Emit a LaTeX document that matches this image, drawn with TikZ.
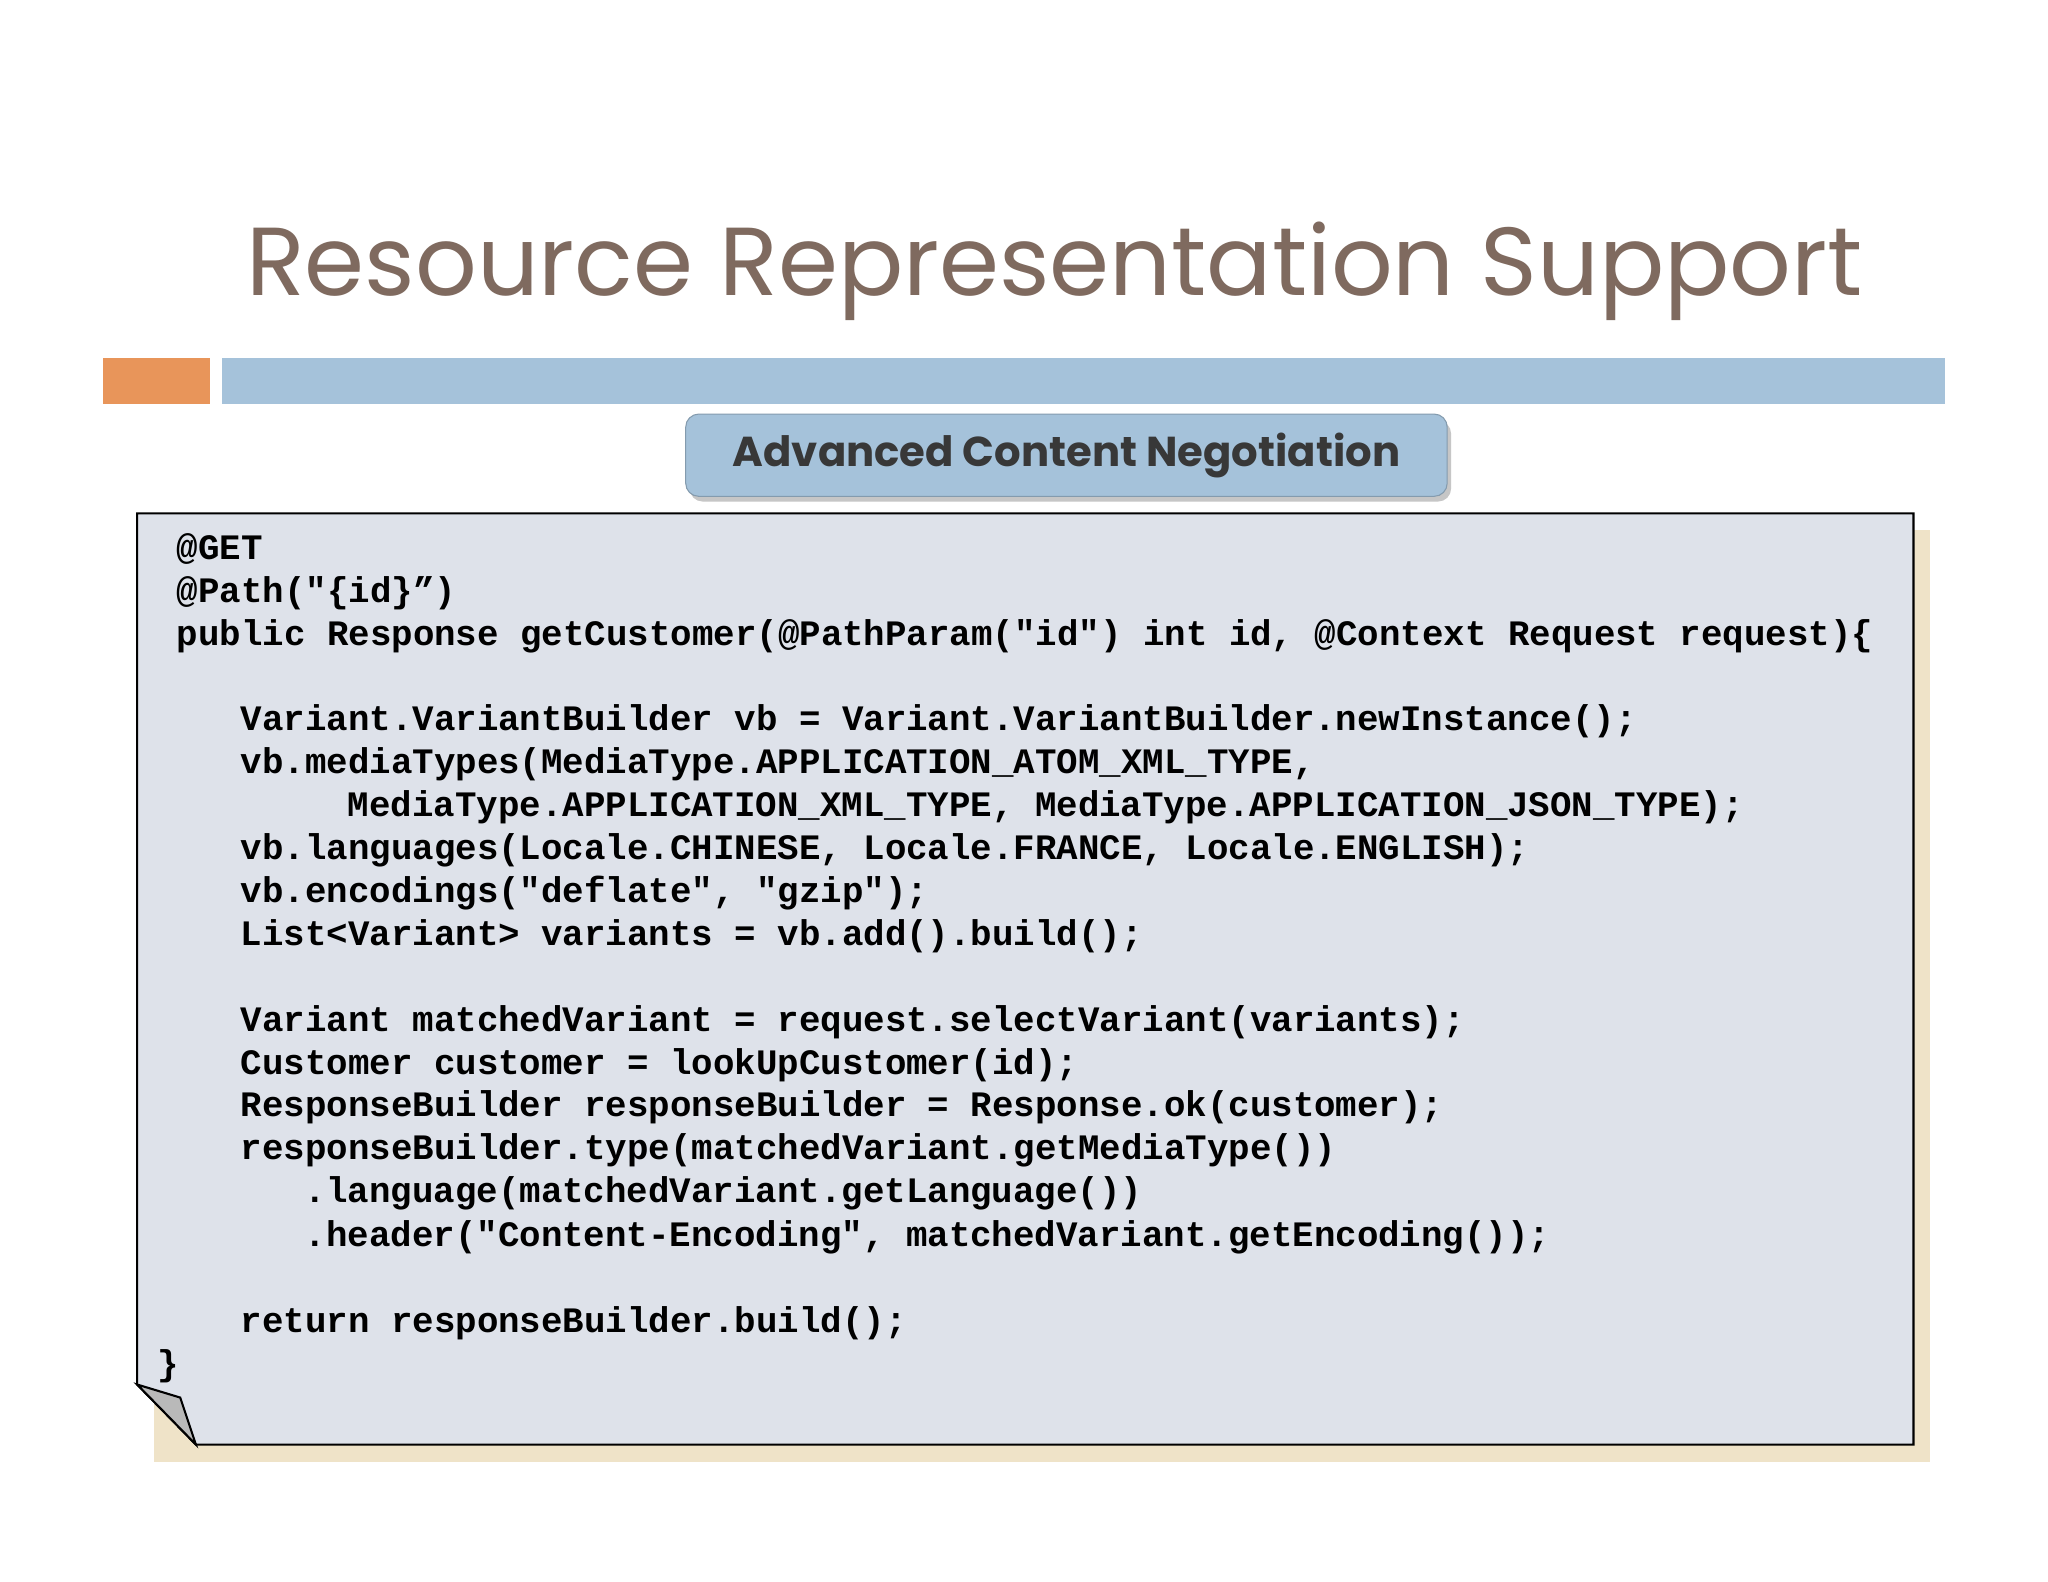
\documentclass[tikz,border=0pt]{standalone}
\usepackage{fontspec}
\setmainfont{Poppins}
\setmonofont{Liberation Mono}
\definecolor{titlec}{HTML}{7F6A5F}
\definecolor{orangec}{HTML}{E8955A}
\definecolor{bluec}{HTML}{A5C2DA}
\definecolor{boxc}{HTML}{DEE2EA}
\definecolor{shadc}{HTML}{EFE3C8}
\begin{document}
\begin{tikzpicture}[x=0.5pt,y=-0.5pt,
  code/.style={anchor=base west,inner sep=0,font=\ttfamily\bfseries\fontsize{13.7}{16}\selectfont}]
\useasboundingbox[fill=white] (0,0) rectangle (1568,1211);
\node[anchor=base west,inner sep=0,text=titlec,font=\fontsize{37}{40}\selectfont] (title) at (188,226) {Resource Representation Support};
\fill[orangec] (79,274) rectangle (161,309);
\fill[bluec] (170,274) rectangle (1489,309);
\fill[gray!45,rounded corners=5pt] (528,322) rectangle (1111,384);
\node[draw=bluec!80!black,fill=bluec,rounded corners=5pt,minimum width=291.5pt,minimum height=31.5pt,inner sep=0,
  font=\bfseries\fontsize{16}{18}\selectfont,text=black!78] (tab) at (816.5,348.5) {Advanced Content Negotiation};
\fill[shadc] (118,406) rectangle (1478,1119);
\fill[boxc,draw=black,line width=0.8pt] (150,1106) -- (1465,1106) -- (1465,393) -- (105,393) -- (105,1060) -- cycle;
\fill[gray!55,draw=black,line width=0.8pt] (105,1060) -- (138,1070) -- (150,1106) -- cycle;
\foreach \t/\xx/\yy [count=\i] in {
 {@GET}/135/428,
 {@Path("\{id\}”)}/135/461,
 {public Response getCustomer(@PathParam("id") int id, @Context Request request)\{}/135/494,
 {Variant.VariantBuilder vb = Variant.VariantBuilder.newInstance();}/184/559,
 {vb.mediaTypes(MediaType.APPLICATION\_ATOM\_XML\_TYPE,}/184/592,
 {MediaType.APPLICATION\_XML\_TYPE, MediaType.APPLICATION\_JSON\_TYPE);}/266/625,
 {vb.languages(Locale.CHINESE, Locale.FRANCE, Locale.ENGLISH);}/184/658,
 {vb.encodings("deflate", "gzip");}/184/691,
 {List<Variant> variants = vb.add().build();}/184/724,
 {Variant matchedVariant = request.selectVariant(variants);}/184/790,
 {Customer customer = lookUpCustomer(id);}/184/823,
 {ResponseBuilder responseBuilder = Response.ok(customer);}/184/855,
 {responseBuilder.type(matchedVariant.getMediaType())}/184/888,
 {.language(matchedVariant.getLanguage())}/233/921,
 {.header("Content-Encoding", matchedVariant.getEncoding());}/233/954,
 {return responseBuilder.build();}/184/1020,
 {\}}/120/1053}
 \node[code] (l\i) at (\xx,\yy) {\t};
\end{tikzpicture}
\end{document}
